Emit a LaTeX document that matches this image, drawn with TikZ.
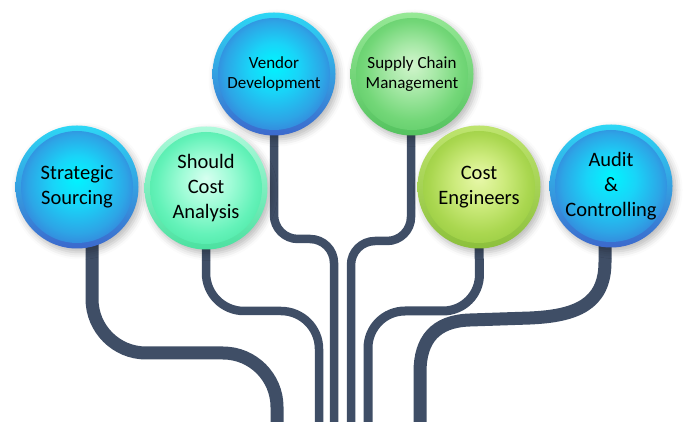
\documentclass[tikz,border=0pt]{standalone}
\usepackage{fontspec}
\setmainfont{Carlito}
\usetikzlibrary{shadows.blur}
\definecolor{stemc}{RGB}{63,78,102}
% blue
\definecolor{bA}{RGB}{0,245,255}
\definecolor{bB}{RGB}{25,212,248}
\definecolor{bC}{RGB}{45,165,230}
\definecolor{bD}{RGB}{62,105,210}
\definecolor{bRt}{RGB}{45,215,245}
\definecolor{bRb}{RGB}{60,105,205}
% mint
\definecolor{mA}{RGB}{215,255,240}
\definecolor{mB}{RGB}{160,252,215}
\definecolor{mC}{RGB}{100,242,185}
\definecolor{mD}{RGB}{70,228,160}
\definecolor{mRt}{RGB}{175,250,220}
\definecolor{mRb}{RGB}{75,225,160}
% green
\definecolor{gA}{RGB}{210,245,205}
\definecolor{gB}{RGB}{165,232,165}
\definecolor{gC}{RGB}{115,215,120}
\definecolor{gD}{RGB}{90,200,100}
\definecolor{gRt}{RGB}{150,232,150}
\definecolor{gRb}{RGB}{85,195,95}
% yellow-green
\definecolor{yA}{RGB}{232,248,170}
\definecolor{yB}{RGB}{205,235,125}
\definecolor{yC}{RGB}{170,215,80}
\definecolor{yD}{RGB}{145,200,60}
\definecolor{yRt}{RGB}{190,228,110}
\definecolor{yRb}{RGB}{140,192,60}
\pgfdeclareradialshading{blueball}{\pgfpoint{0bp}{4bp}}{color(0bp)=(bA); color(10bp)=(bB); color(20bp)=(bC); color(29bp)=(bD)}
\pgfdeclareradialshading{mintball}{\pgfpoint{0bp}{4bp}}{color(0bp)=(mA); color(10bp)=(mB); color(20bp)=(mC); color(29bp)=(mD)}
\pgfdeclareradialshading{greenball}{\pgfpoint{0bp}{4bp}}{color(0bp)=(gA); color(10bp)=(gB); color(20bp)=(gC); color(29bp)=(gD)}
\pgfdeclareradialshading{yellowball}{\pgfpoint{0bp}{4bp}}{color(0bp)=(yA); color(10bp)=(yB); color(20bp)=(yC); color(29bp)=(yD)}
\tikzset{
  bubble/.style n args={3}{circle, minimum size=123pt, inner sep=0pt, align=center, text=black,
    top color=#1, bottom color=#2,
    blur shadow={shadow xshift=3pt, shadow yshift=-4pt, shadow opacity=28, shadow blur radius=7pt},
    path picture={\shade[shading=#3] (path picture bounding box.center) circle[radius=56pt];}},
  bigtext/.style={font=\fontsize{20.5}{25}\selectfont},
  smalltext/.style={font=\fontsize{17}{20.5}\selectfont},
  stemline/.style={draw=stemc, line cap=butt},
  thickstem/.style={stemline, line width=13pt},
  thinstem/.style={stemline, line width=8.5pt},
}
\begin{document}
\begin{tikzpicture}[x=1pt,y=1pt]
\useasboundingbox (0,0) rectangle (700,422);
% free ends of the stems
\coordinate (e1) at (277,-6);
\coordinate (e2) at (319,-6);
\coordinate (e3) at (334,-6);
\coordinate (e4) at (351,-6);
\coordinate (e5) at (368,-6);
\coordinate (e6) at (420,-6);
% node positions (for stems)
\coordinate (p1) at (77,235);
\coordinate (p2) at (206,234);
\coordinate (p3) at (274,348);
\coordinate (p4) at (412,348);
\coordinate (p5) at (479,235);
\coordinate (p6) at (611,236);
% stems
\draw[thickstem, rounded corners=54pt] ([xshift=15pt,yshift=-55pt]p1) -- (92,69) -- (277,69) -- (e1);
\draw[thinstem, rounded corners=38pt] ([yshift=-55pt]p2) -- (206,111) -- (319,111) -- (e2);
\draw[thinstem, rounded corners=24pt] ([yshift=-55pt]p3) -- (274,183) -- (334,183) -- (e3);
\draw[thinstem, rounded corners=24pt] ([xshift=-1pt,yshift=-55pt]p4) -- (411,181) -- (351,181) -- (e4);
\draw[thinstem, line width=9pt, rounded corners=37pt] ([yshift=-55pt]p5) -- (480,111) -- (368,111) -- (e5);
\draw[thickstem] ([xshift=-6pt,yshift=-55pt]p6) -- (605,160) .. controls (605,117) and (575,106) .. (530,104)
   -- (470,102) .. controls (435,101) and (420,82) .. (420,50) -- (e6);
% bubbles
\node[bubble={bRt}{bRb}{blueball}, bigtext] (ss) at (p1) {Strategic\\Sourcing};
\node[bubble={mRt}{mRb}{mintball}, bigtext] (sca) at (p2) {Should\\Cost\\Analysis};
\node[bubble={bRt}{bRb}{blueball}, smalltext] (vd) at (p3) {Vendor\\Development};
\node[bubble={gRt}{gRb}{greenball}, smalltext] (scm) at (p4) {Supply Chain\\Management};
\node[bubble={yRt}{yRb}{yellowball}, bigtext] (ce) at (p5) {Cost\\Engineers};
\node[bubble={bRt}{bRb}{blueball}, bigtext] (ac) at (p6) {Audit\\\&\\Controlling};
\end{tikzpicture}
\end{document}
